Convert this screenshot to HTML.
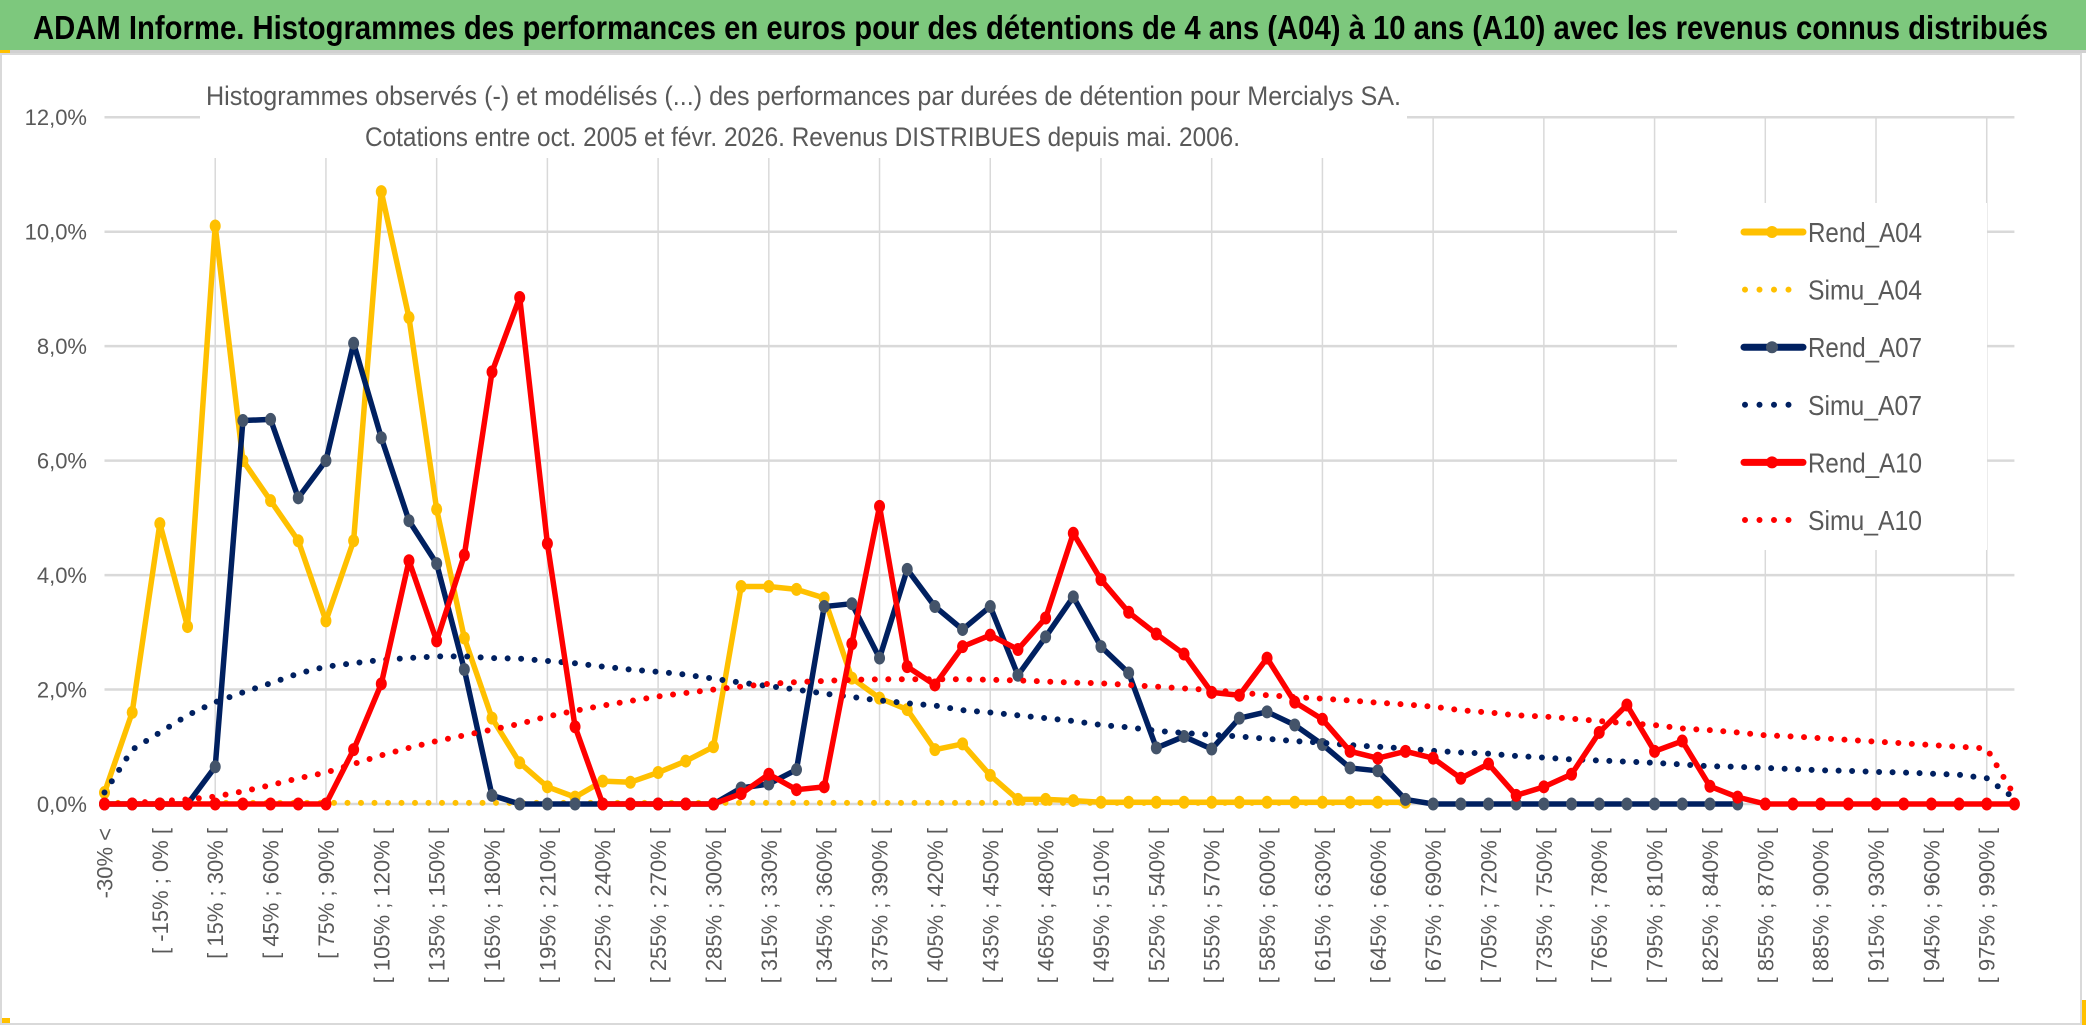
<!DOCTYPE html>
<html><head><meta charset="utf-8"><style>
html,body{margin:0;padding:0;background:#fff;}
svg{display:block;}
text{font-family:"Liberation Sans Narrow","Liberation Sans",sans-serif;}
</style></head><body>
<svg id="chart" width="2086" height="1031" viewBox="0 0 2086 1031" xmlns="http://www.w3.org/2000/svg">
<rect x="0" y="0" width="2086" height="1031" fill="#ffffff"/>
<rect x="0" y="0" width="2086" height="50" fill="#7dc87d"/>
<rect x="0" y="50" width="2086" height="3" fill="#d0d0d0"/>
<rect x="0" y="50" width="10" height="4" fill="#ffc000"/>
<rect x="0" y="1018" width="10" height="5" fill="#ffc000"/>
<rect x="2080" y="1000" width="6" height="25" fill="#ffc000"/>
<rect x="1" y="54" width="2080" height="970" fill="none" stroke="#d9d9d9" stroke-width="2"/>
<text x="33" y="39" font-size="33" font-weight="bold" fill="#000" textLength="2015" lengthAdjust="spacingAndGlyphs">ADAM Informe. Histogrammes des performances en euros pour des détentions de 4 ans (A04) à 10 ans (A10) avec les revenus connus distribués</text>
<g id="grid"></g>
<g id="series"></g>
<g id="axes"></g>
<rect x="200" y="60" width="1207" height="60" fill="#fff"/>
<rect x="200" y="118" width="1130" height="40" fill="#fff"/>
<text x="206" y="105" font-size="27" fill="#595959" textLength="1195" lengthAdjust="spacingAndGlyphs">Histogrammes observés (-) et modélisés (...) des performances par durées de détention pour Mercialys SA.</text>
<text x="365" y="146" font-size="27" fill="#595959" textLength="875" lengthAdjust="spacingAndGlyphs">Cotations entre oct. 2005 et févr. 2026. Revenus DISTRIBUES depuis mai. 2006.</text>
<g id="legend"></g>
</svg>
<script>
const categories = ["-30% <","[ -30% ; -15% [","[ -15% ; 0% [","[ 0% ; 15% [","[ 15% ; 30% [","[ 30% ; 45% [","[ 45% ; 60% [","[ 60% ; 75% [","[ 75% ; 90% [","[ 90% ; 105% [",
"[ 105% ; 120% [","[ 120% ; 135% [","[ 135% ; 150% [","[ 150% ; 165% [","[ 165% ; 180% [","[ 180% ; 195% [","[ 195% ; 210% [","[ 210% ; 225% [","[ 225% ; 240% [","[ 240% ; 255% [",
"[ 255% ; 270% [","[ 270% ; 285% [","[ 285% ; 300% [","[ 300% ; 315% [","[ 315% ; 330% [","[ 330% ; 345% [","[ 345% ; 360% [","[ 360% ; 375% [","[ 375% ; 390% [","[ 390% ; 405% [",
"[ 405% ; 420% [","[ 420% ; 435% [","[ 435% ; 450% [","[ 450% ; 465% [","[ 465% ; 480% [","[ 480% ; 495% [","[ 495% ; 510% [","[ 510% ; 525% [","[ 525% ; 540% [","[ 540% ; 555% [",
"[ 555% ; 570% [","[ 570% ; 585% [","[ 585% ; 600% [","[ 600% ; 615% [","[ 615% ; 630% [","[ 630% ; 645% [","[ 645% ; 660% [","[ 660% ; 675% [","[ 675% ; 690% [","[ 690% ; 705% [",
"[ 705% ; 720% [","[ 720% ; 735% [","[ 735% ; 750% [","[ 750% ; 765% [","[ 765% ; 780% [","[ 780% ; 795% [","[ 795% ; 810% [","[ 810% ; 825% [","[ 825% ; 840% [","[ 840% ; 855% [",
"[ 855% ; 870% [","[ 870% ; 885% [","[ 885% ; 900% [","[ 900% ; 915% [","[ 915% ; 930% [","[ 930% ; 945% [","[ 945% ; 960% [","[ 960% ; 975% [","[ 975% ; 990% [","990% >"];
const yTicks = [0,2,4,6,8,10,12];
const yTickLabels = ["0,0%","2,0%","4,0%","6,0%","8,0%","10,0%","12,0%"];
const rendA04 = [0.2,1.6,4.9,3.1,10.1,6.0,5.3,4.6,3.2,4.6,10.7,8.5,5.15,2.9,1.5,0.72,0.3,0.12,0.4,0.38,0.55,0.75,1.0,3.8,3.8,3.75,3.6,2.2,1.85,1.65,0.95,1.05,0.5,0.08,0.08,0.06,0.03,0.03,0.03,0.03,0.03,0.03,0.03,0.03,0.03,0.03,0.03,0.03];
const simuA04 = [0.02,0.02,0.02,0.02,0.02,0.02,0.02,0.02,0.02,0.02,0.02,0.02,0.02,0.02,0.02,0.02,0.02,0.02,0.02,0.02,0.02,0.02,0.02,0.02,0.02,0.02,0.02,0.02,0.02,0.02,0.02,0.02,0.02,0.02,0.02,0.02,0.02,0.02,0.02,0.02,0.02,0.02,0.02,0.02,0.02,0.02,0.02,0.02];
const rendA07 = [0,0,0,0,0.65,6.7,6.72,5.35,6.0,8.05,6.4,4.95,4.2,2.35,0.15,0,0,0,0,0,0,0,0,0.28,0.35,0.6,3.45,3.5,2.55,4.1,3.45,3.05,3.45,2.25,2.92,3.62,2.75,2.29,0.98,1.18,0.96,1.5,1.61,1.38,1.04,0.63,0.58,0.08,0,0,0,0,0,0,0,0,0,0,0,0];
const simuA07 = [0.2,0.95,1.25,1.55,1.78,1.95,2.11,2.28,2.4,2.46,2.52,2.55,2.58,2.58,2.55,2.54,2.5,2.46,2.4,2.35,2.31,2.26,2.19,2.12,2.06,2.0,1.93,1.87,1.81,1.76,1.72,1.64,1.6,1.55,1.5,1.45,1.38,1.34,1.28,1.24,1.21,1.18,1.14,1.1,1.07,1.03,1.0,0.97,0.93,0.9,0.88,0.84,0.81,0.78,0.76,0.74,0.72,0.69,0.66,0.65,0.63,0.61,0.59,0.58,0.56,0.55,0.53,0.51,0.45,0.1];
const rendA10 = [0,0,0,0,0,0,0,0,0,0.95,2.1,4.25,2.85,4.35,7.55,8.85,4.55,1.35,0,0,0,0,0,0.18,0.52,0.25,0.3,2.8,5.2,2.4,2.08,2.75,2.95,2.7,3.25,4.73,3.92,3.35,2.97,2.62,1.95,1.9,2.55,1.78,1.48,0.92,0.8,0.92,0.8,0.45,0.7,0.15,0.3,0.52,1.25,1.73,0.92,1.1,0.31,0.12,0,0,0,0,0,0,0,0,0,0];
const simuA10 = [0.0,0.02,0.05,0.08,0.13,0.22,0.33,0.45,0.55,0.7,0.85,0.98,1.1,1.2,1.3,1.4,1.53,1.63,1.72,1.8,1.88,1.94,2.0,2.05,2.1,2.13,2.15,2.17,2.18,2.18,2.18,2.18,2.17,2.16,2.14,2.12,2.11,2.08,2.05,2.02,1.99,1.95,1.9,1.87,1.84,1.81,1.77,1.74,1.7,1.64,1.6,1.55,1.53,1.49,1.45,1.41,1.38,1.32,1.29,1.25,1.2,1.18,1.15,1.12,1.09,1.06,1.03,1.0,0.97,0.15];

const NS = "http://www.w3.org/2000/svg";
const X0 = 104.5, DX = 27.68, Y0 = 804, DY = 57.23;
function xPos(i){ return X0 + i*DX; }
function yPos(v){ return Y0 - v*DY; }
function mk(tag, parent){ const e = document.createElementNS(NS, tag); parent.appendChild(e); return e; }

const grid = document.getElementById('grid');
yTicks.forEach(function(t, k){
  const l = mk('line', grid);
  
  
  l.setAttribute('x1', xPos(0)); l.setAttribute('x2', xPos(categories.length-1));
  l.setAttribute('y1', yPos(t)); l.setAttribute('y2', yPos(t));
  l.setAttribute('stroke', '#d9d9d9'); l.setAttribute('stroke-width', '2.5');
});
categories.forEach(function(c, i){
  if (i % 4 === 0 && i > 0) {
    const l = mk('line', grid);
    
    
    l.setAttribute('x1', xPos(i)); l.setAttribute('x2', xPos(i));
    l.setAttribute('y1', yPos(12)); l.setAttribute('y2', yPos(0));
    l.setAttribute('stroke', '#d9d9d9'); l.setAttribute('stroke-width', '1.5');
  }
});

const axes = document.getElementById('axes');
yTicks.forEach(function(t, k){
  const tx = mk('text', axes);
  
  
  tx.setAttribute('x', 87); tx.setAttribute('y', yPos(t) + 8);
  tx.setAttribute('text-anchor', 'end'); tx.setAttribute('font-size', '22');
  tx.setAttribute('fill', '#595959');
  tx.textContent = yTickLabels[k];
});
categories.forEach(function(c, i){
  if (i % 2 !== 0) return;
  const tx = mk('text', axes);
  
  
  tx.setAttribute('transform', 'translate(' + (xPos(i) + 8) + ',828) rotate(-90)');
  tx.setAttribute('text-anchor', 'end');
  tx.setAttribute('font-size', '22');
  tx.setAttribute('fill', '#595959');
  tx.setAttribute('style', 'font-family:"Liberation Sans",sans-serif');
  tx.textContent = c;
});

const seriesLayer = document.getElementById('series');
function drawSolid(vals, color, markerColor, name){
  const g = mk('g', seriesLayer);
  
  
  const p = mk('polyline', g);
  
  
  p.setAttribute('points', vals.map(function(v,i){ return xPos(i)+','+yPos(v); }).join(' '));
  p.setAttribute('fill', 'none'); p.setAttribute('stroke', color);
  p.setAttribute('stroke-width', '5.5'); p.setAttribute('stroke-linejoin', 'round');
  vals.forEach(function(v, i){
    const c = mk('ellipse', g);
    
    
    c.setAttribute('cx', xPos(i)); c.setAttribute('cy', yPos(v));
    c.setAttribute('rx', 5.5); c.setAttribute('ry', 6.5);
    c.setAttribute('fill', markerColor);
  });
}
function drawDotted(vals, color, name){
  const p = mk('polyline', seriesLayer);
  
  
  p.setAttribute('points', vals.map(function(v,i){ return xPos(i)+','+yPos(v); }).join(' '));
  p.setAttribute('fill', 'none'); p.setAttribute('stroke', color);
  p.setAttribute('stroke-width', '6'); p.setAttribute('stroke-linecap', 'round');
  p.setAttribute('stroke-dasharray', '0 13.5');
}
drawSolid(rendA04, '#ffc000', '#ffc000', 'rend-a04-series');
drawDotted(simuA04, '#ffc000', 'simu-a04-series');
drawSolid(rendA07, '#002060', '#44546a', 'rend-a07-series');
drawDotted(simuA07, '#002060', 'simu-a07-series');
drawSolid(rendA10, '#ff0000', '#ff0000', 'rend-a10-series');
drawDotted(simuA10, '#ff0000', 'simu-a10-series');

const legend = document.getElementById('legend');
const bg = mk('rect', legend);


bg.setAttribute('x', 1677); bg.setAttribute('y', 203); bg.setAttribute('width', 310); bg.setAttribute('height', 347);
bg.setAttribute('fill', '#fff');
const legendNames = ["Rend_A04","Simu_A04","Rend_A07","Simu_A07","Rend_A10","Simu_A10"];
const legendColors = ["#ffc000","#ffc000","#002060","#002060","#ff0000","#ff0000"];
const legendMarkers = ["#ffc000","","#44546a","","#ff0000",""];
legendNames.forEach(function(n, k){
  const y = 232 + k*57.6;
  const g = mk('g', legend);
  
  
  const l = mk('line', g);
  
  
  l.setAttribute('x1', k%2 ? 1745 : 1744); l.setAttribute('x2', k%2 ? 1800 : 1803); l.setAttribute('y1', y); l.setAttribute('y2', y);
  l.setAttribute('stroke', legendColors[k]); l.setAttribute('stroke-width', k%2 ? 6 : 7);
  l.setAttribute('stroke-linecap', 'round');
  if (k % 2) { l.setAttribute('stroke-dasharray', '0 14.5'); }
  else {
    const c = mk('circle', g);
    
    
    c.setAttribute('cx', 1772); c.setAttribute('cy', y); c.setAttribute('r', 6);
    c.setAttribute('fill', legendMarkers[k]);
  }
  const t = mk('text', g);
  
  
  t.setAttribute('x', 1808); t.setAttribute('y', y + 10);
  t.setAttribute('font-size', '28'); t.setAttribute('fill', '#595959');
  t.setAttribute('textLength', 114);
  t.setAttribute('lengthAdjust', 'spacingAndGlyphs');
  t.textContent = n;
});
</script>
</body></html>
